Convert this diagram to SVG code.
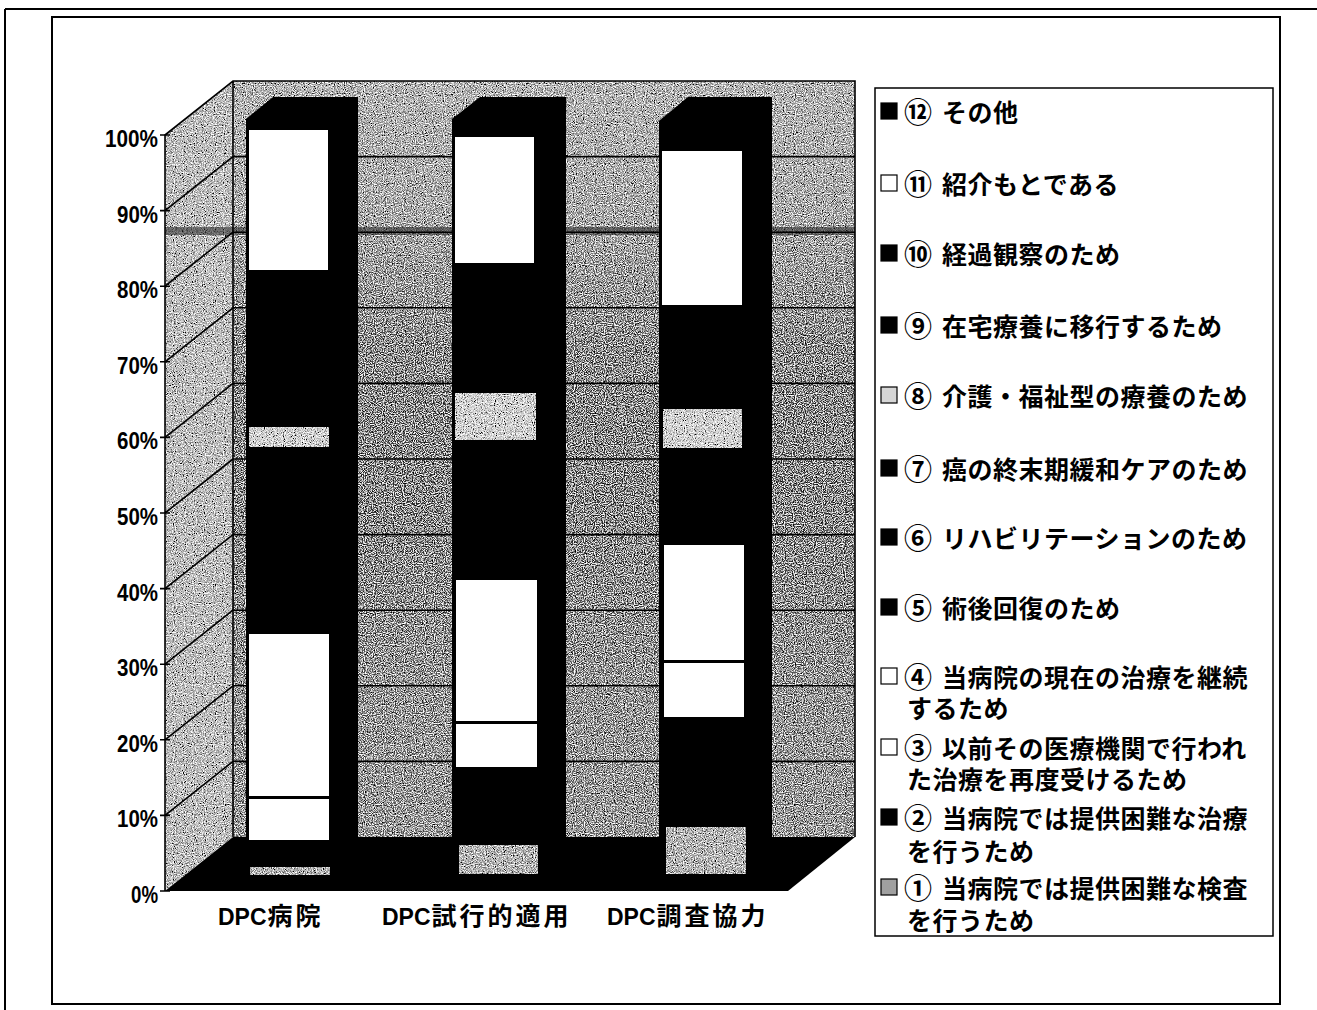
<svg xmlns="http://www.w3.org/2000/svg" width="1317" height="1010" viewBox="0 0 1317 1010">
<defs>
<style>
.ax{font-family:"Liberation Sans","Noto Sans CJK JP",sans-serif;font-weight:bold;font-size:23px;fill:#000}
.yl{text-anchor:end}
.cj{font-family:"Noto Sans CJK JP",sans-serif;font-size:25px;letter-spacing:3px}
.lg{font-family:"Liberation Sans","Noto Sans CJK JP","Noto Sans CJK SC",sans-serif;font-weight:bold;font-size:25px;fill:#000;letter-spacing:0.5px}
.num{font-size:28px;letter-spacing:0}
.grid{stroke:#000;stroke-width:1.6;fill:none}
.edge{stroke:#000;stroke-width:1.6;fill:none}
.blk{fill:#000}
.wht{fill:#fff}
.lt{fill:#d6d6d6}
.md{fill:#a0a0a0}
.mk{stroke:#000;stroke-width:1.2}
.frame{fill:none;stroke:#000;stroke-width:2}
</style>
<linearGradient id="wallGrad" gradientUnits="userSpaceOnUse" x1="0" y1="81" x2="0" y2="837">
<stop offset="0" stop-color="#a2a2a2"/>
<stop offset="0.18" stop-color="#8e8e8e"/>
<stop offset="0.27" stop-color="#6c6c6c"/>
<stop offset="0.36" stop-color="#474747"/>
<stop offset="0.55" stop-color="#3c3c3c"/>
<stop offset="0.68" stop-color="#4e4e4e"/>
<stop offset="0.8" stop-color="#606060"/>
<stop offset="1" stop-color="#6c6c6c"/>
</linearGradient>
<filter id="speck" x="0" y="0" width="1" height="1">
<feTurbulence type="fractalNoise" baseFrequency="0.9" numOctaves="1" seed="4" result="t"/>
<feColorMatrix in="t" type="matrix" values="0 0 0 0 0 0 0 0 0 0 0 0 0 0 0 4 0 0 0 -1.7" result="d"/>
<feTurbulence type="fractalNoise" baseFrequency="0.9" numOctaves="1" seed="11" result="t2"/>
<feColorMatrix in="t2" type="matrix" values="0 0 0 0 1 0 0 0 0 1 0 0 0 0 1 4 0 0 0 -1.75" result="w"/>
<feMerge result="m"><feMergeNode in="SourceGraphic"/><feMergeNode in="d"/><feMergeNode in="w"/></feMerge>
<feComposite in="m" in2="SourceGraphic" operator="in"/>
</filter>
</defs>
<rect width="1317" height="1010" fill="#fff"/>

<g id="frames">
<line x1="5" y1="9" x2="1317" y2="9" stroke="#000" stroke-width="2"/>
<line x1="5" y1="9" x2="5" y2="1010" stroke="#000" stroke-width="2"/>
<rect class="frame" x="52" y="17" width="1228" height="987"/>
</g>

<g id="plot-walls">
<polygon points="165,135 233,81 233,837 165,891" fill="#b4b4b4" filter="url(#speck)"/>
<rect x="233" y="81" width="622" height="756" fill="url(#wallGrad)" filter="url(#speck)"/>
<rect x="165" y="227" width="690" height="8" fill="#222" opacity="0.55"/>
</g>

<g id="gridlines">
<path class="grid" d="M233,156.6H855M233,232.2H855M233,307.8H855M233,383.4H855M233,459H855M233,534.6H855M233,610.2H855M233,685.8H855M233,761.4H855"/>
<path class="grid" d="M165,210.6L233,156.6M165,286.2L233,232.2M165,361.8L233,307.8M165,437.4L233,383.4M165,513L233,459M165,588.6L233,534.6M165,664.2L233,610.2M165,739.8L233,685.8M165,815.4L233,761.4"/>
<path class="edge" d="M165,891V135L233,81H855V837M233,81V837"/>
<path class="edge" d="M160,135H170M160,210.6H170M160,286.2H170M160,361.8H170M160,437.4H170M160,513H170M160,588.6H170M160,664.2H170M160,739.8H170M160,815.4H170M160,891H170"/>
</g>

<g id="floor">
<polygon class="blk" points="233,837 855,837 788,891 165,891"/>
</g>

<g id="bar-dpc-hospital">
<polygon class="blk" points="246,119 273,97 358,97 358,853 331,875 246,875"/>
<rect class="wht" x="249" y="130" width="79" height="140"/>
<rect class="lt" x="249" y="427" width="80" height="20" filter="url(#speck)"/>
<rect class="wht" x="249" y="634" width="80" height="162"/>
<rect class="wht" x="249" y="799" width="80" height="41"/>
<rect class="md" x="250" y="867" width="80" height="8" filter="url(#speck)"/>
</g>

<g id="bar-dpc-trial">
<polygon class="blk" points="452,119 480,97 566,97 566,853 538,875 452,875"/>
<rect class="wht" x="455" y="137" width="79" height="126"/>
<rect class="lt" x="455" y="393" width="81" height="47" filter="url(#speck)"/>
<rect class="wht" x="456" y="580" width="81" height="141"/>
<rect class="wht" x="456" y="724" width="81" height="43"/>
<rect class="md" x="459" y="845" width="79" height="29" filter="url(#speck)"/>
</g>

<g id="bar-dpc-survey">
<polygon class="blk" points="659,121 688,97 772,97 772,853 744,875 659,875"/>
<rect class="wht" x="662" y="151" width="80" height="154"/>
<rect class="lt" x="663" y="409" width="79" height="39" filter="url(#speck)"/>
<rect class="wht" x="664" y="545" width="80" height="115"/>
<rect class="wht" x="664" y="663" width="80" height="54"/>
<rect class="md" x="666" y="827" width="80" height="47" filter="url(#speck)"/>
</g>

<g id="y-axis-labels">
<text class="ax yl" x="158" y="147" textLength="53" lengthAdjust="spacingAndGlyphs">100%</text>
<text class="ax yl" x="158" y="222.6" textLength="41" lengthAdjust="spacingAndGlyphs">90%</text>
<text class="ax yl" x="158" y="298.2" textLength="41" lengthAdjust="spacingAndGlyphs">80%</text>
<text class="ax yl" x="158" y="373.8" textLength="41" lengthAdjust="spacingAndGlyphs">70%</text>
<text class="ax yl" x="158" y="449.4" textLength="41" lengthAdjust="spacingAndGlyphs">60%</text>
<text class="ax yl" x="158" y="525" textLength="41" lengthAdjust="spacingAndGlyphs">50%</text>
<text class="ax yl" x="158" y="600.6" textLength="41" lengthAdjust="spacingAndGlyphs">40%</text>
<text class="ax yl" x="158" y="676.2" textLength="41" lengthAdjust="spacingAndGlyphs">30%</text>
<text class="ax yl" x="158" y="751.8" textLength="41" lengthAdjust="spacingAndGlyphs">20%</text>
<text class="ax yl" x="158" y="827.4" textLength="41" lengthAdjust="spacingAndGlyphs">10%</text>
<text class="ax yl" x="158" y="903" textLength="27" lengthAdjust="spacingAndGlyphs">0%</text>
</g>

<g id="x-axis-labels">
<text class="ax" x="218" y="925">DPC<tspan class="cj" dx="1">病院</tspan></text>
<text class="ax" x="382" y="925">DPC<tspan class="cj" dx="1">試行的適用</tspan></text>
<text class="ax" x="607" y="925">DPC<tspan class="cj" dx="1">調査協力</tspan></text>
</g>

<g id="legend">
<rect x="875" y="88" width="398" height="848" fill="#fff" stroke="#000" stroke-width="1.5"/>
<g id="lg12"><rect class="mk blk" x="881" y="103" width="16" height="16"/><text class="lg num" x="904" y="123">⑫</text><text class="lg" x="942" y="122">その他</text></g>
<g id="lg11"><rect class="mk wht" x="881" y="175" width="16" height="16"/><text class="lg num" x="904" y="195">⑪</text><text class="lg" x="942" y="194">紹介もとである</text></g>
<g id="lg10"><rect class="mk blk" x="881" y="245" width="16" height="16"/><text class="lg num" x="904" y="265">⑩</text><text class="lg" x="942" y="264">経過観察のため</text></g>
<g id="lg9"><rect class="mk blk" x="881" y="317" width="16" height="16"/><text class="lg num" x="904" y="337">⑨</text><text class="lg" x="942" y="336">在宅療養に移行するため</text></g>
<g id="lg8"><rect class="mk lt" x="881" y="387" width="16" height="16"/><text class="lg num" x="904" y="407">⑧</text><text class="lg" x="942" y="406">介護・福祉型の療養のため</text></g>
<g id="lg7"><rect class="mk blk" x="881" y="460" width="16" height="16"/><text class="lg num" x="904" y="480">⑦</text><text class="lg" x="942" y="479">癌の終末期緩和ケアのため</text></g>
<g id="lg6"><rect class="mk blk" x="881" y="529" width="16" height="16"/><text class="lg num" x="904" y="549">⑥</text><text class="lg" x="942" y="548">リハビリテーションのため</text></g>
<g id="lg5"><rect class="mk blk" x="881" y="599" width="16" height="16"/><text class="lg num" x="904" y="619">⑤</text><text class="lg" x="942" y="618">術後回復のため</text></g>
<g id="lg4"><rect class="mk wht" x="881" y="668" width="16" height="16"/><text class="lg num" x="904" y="688">④</text><text class="lg" x="942" y="687">当病院の現在の治療を継続</text><text class="lg" x="907" y="718">するため</text></g>
<g id="lg3"><rect class="mk wht" x="881" y="739" width="16" height="16"/><text class="lg num" x="904" y="759">③</text><text class="lg" x="942" y="758">以前その医療機関で行われ</text><text class="lg" x="907" y="789">た治療を再度受けるため</text></g>
<g id="lg2"><rect class="mk blk" x="881" y="809" width="16" height="16"/><text class="lg num" x="904" y="829">②</text><text class="lg" x="942" y="828">当病院では提供困難な治療</text><text class="lg" x="907" y="861">を行うため</text></g>
<g id="lg1"><rect class="mk md" x="881" y="879" width="16" height="16"/><text class="lg num" x="904" y="899">①</text><text class="lg" x="942" y="898">当病院では提供困難な検査</text><text class="lg" x="907" y="930">を行うため</text></g>
</g>
</svg>
